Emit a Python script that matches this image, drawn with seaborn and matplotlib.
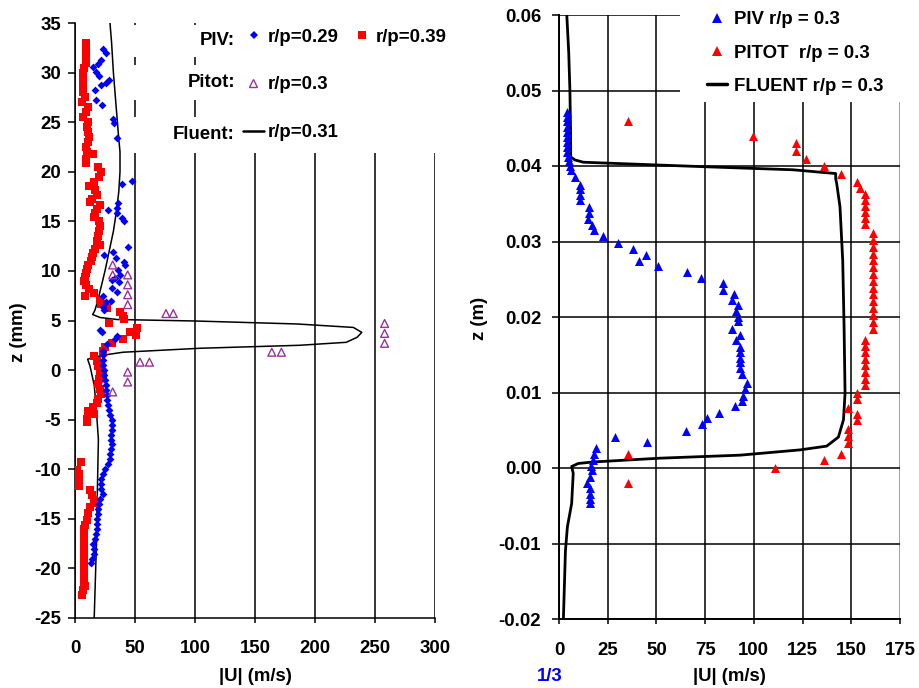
import numpy as np
import pandas as pd
import matplotlib
matplotlib.use("Agg")
import matplotlib.pyplot as plt
import seaborn as sns
from matplotlib.lines import Line2D
from matplotlib.patches import Rectangle
from matplotlib.ticker import FormatStrFormatter

# ---------------- data: left panel (z in mm, |U| in m/s) ----------------
piv29_z = [32.4, 32.0, 31.3, 30.9, 30.6, 30.1, 29.7, 29.3, 28.9, 28.7, 28.2, 27.2, 26.7,
           25.3, 24.9, 23.4, 19.1, 18.8, 16.8, 16.3, 16.1, 15.8, 15.3, 15.0,
           12.4, 11.9, 11.6, 11.3, 10.9, 10.6, 10.1, 9.6, 9.3, 9.1, 8.9, 8.3, 7.9, 7.5,
           7.0, 6.9, 6.4, 6.1, 4.0, 3.8, 3.4, 3.1, 2.6, 1.9,
           1.5, 1.0, 0.5, 0.0, -0.5, -1.0, -1.5, -2.0, -2.5, -3.0, -3.5, -4.0, -4.5,
           -5.0, -5.5, -6.0, -6.5, -7.0, -7.5, -8.0, -8.5, -9.0, -9.5, -10.0, -10.5,
           -11.0, -11.5, -12.0, -12.5, -13.0, -13.5, -14.0, -14.5, -15.0, -15.5,
           -16.0, -16.5, -17.0, -17.5, -18.0, -18.5, -19.0, -19.5]
piv29_u = [23.6, 25.8, 21.4, 19.4, 14.7, 17.5, 20.3, 28.6, 25.8, 21.4, 16.7, 17.5, 22.2,
           31.9, 32.5, 35.3, 47.2, 38.9, 36.0, 34.7, 27.8, 34.7, 38.9, 40.8,
           44.4, 32.0, 24.2, 34.2, 40.8, 41.7, 36.0, 37.5, 33.3, 30.6, 37.0, 30.6, 34.7, 23.6,
           29.7, 25.8, 23.0, 24.2, 20.8, 22.2, 35.3, 33.3, 26.4, 23.6,
           23.0, 23.0, 23.5, 24.0, 24.5, 25.0, 25.5, 26.0, 26.5, 27.0, 27.5, 28.5, 29.5,
           30.5, 30.5, 30.5, 30.0, 30.0, 30.5, 30.0, 29.5, 29.0, 27.5, 25.0, 23.5,
           22.0, 21.5, 22.0, 23.0, 21.0, 20.0, 19.5, 19.0, 18.5, 18.5,
           18.0, 17.5, 16.5, 15.0, 15.5, 16.0, 14.0, 13.0]

piv39_z = [33.0, 32.5, 32.0, 31.5, 31.0, 30.5, 30.0, 29.5, 29.0, 28.5, 28.0, 27.5, 27.0,
           26.5, 26.0, 25.5, 25.0, 24.5, 24.0, 23.5, 23.0, 22.5, 22.0, 21.8, 21.3, 20.9,
           20.5, 20.0, 19.5, 19.0, 18.6, 18.2, 17.7, 17.3, 17.0, 16.6, 16.2, 15.8, 15.4,
           15.0, 14.5, 14.0, 13.5, 13.0, 12.6, 12.2, 11.8, 11.4, 11.0, 10.6, 10.2, 9.8,
           9.4, 9.0, 8.6, 8.2, 7.8, 7.5, 7.1, 6.7, 6.3, 5.9, 5.5, 5.2, 4.7, 4.2, 3.8, 3.5,
           3.1, 2.7, 2.3, 1.9, 1.4, 0.9, 0.4, -0.1, -0.5, -0.9, -1.4, -1.9, -2.4, -2.9,
           -3.3, -3.7, -4.1, -4.4, -4.9, -5.2, -9.3, -10.1, -10.5, -10.9, -11.3, -11.7,
           -12.1, -12.6, -13.1, -13.4, -13.8, -14.4, -15.1, -15.6, -16.0, -16.5, -17.0,
           -17.5, -18.0, -18.5, -19.0, -19.5, -20.0, -20.5, -21.0, -21.4, -21.8, -22.2, -22.7]
piv39_u = [9.0, 9.0, 9.5, 9.0, 9.0, 7.5, 7.0, 6.5, 7.0, 6.5, 7.0, 8.0, 6.0,
           11.0, 9.0, 6.5, 11.0, 10.0, 11.0, 12.0, 11.0, 9.0, 10.0, 15.0, 9.5, 9.0,
           19.5, 22.0, 20.0, 16.0, 12.0, 16.5, 18.5, 14.0, 12.5, 21.0, 18.0, 17.0, 16.0,
           20.0, 21.0, 20.0, 19.5, 18.0, 21.0, 16.5, 15.0, 14.0, 13.0, 11.0, 10.0, 9.5,
           8.5, 7.5, 9.5, 11.5, 16.0, 8.0, 21.0, 22.0, 27.0, 37.5, 40.0, 41.0, 28.5, 52.0,
           46.0, 51.0, 40.0, 31.0, 25.0, 23.5, 16.0, 18.5, 19.5, 21.0, 23.0, 20.0, 19.5,
           21.0, 21.5, 19.5, 18.5, 15.0, 11.0, 16.0, 10.0, 10.0, 5.0, 2.0, 3.0, 3.5, 2.5,
           3.0, 12.5, 14.0, 15.5, 17.5, 12.5, 10.5, 9.7, 8.5, 7.5, 7.5, 7.5,
           7.5, 7.5, 7.5, 7.5, 7.5, 7.5, 7.5, 7.5, 7.5, 8.0, 7.0, 5.5]

pitot_l_z = [10.6, 9.6, 9.6, 8.6, 7.6, 6.6, 5.7, 5.7, 4.7, 3.7, 2.7, 1.8, 1.8,
             0.8, 0.8, -0.2, -1.2, -2.2]
pitot_l_u = [31.4, 31.4, 43.9, 43.9, 43.9, 43.9, 75.8, 81.9, 258, 258, 258, 164, 172,
             54.2, 62.0, 43.9, 43.9, 31.4]

fluent_l_z = [36, 33, 30, 27, 24, 22, 20, 18, 16, 14, 12, 10, 8.5, 7, 6, 5.6, 5.3, 5.1,
              4.95, 4.65, 4.3, 3.8, 3.3, 2.8, 2.5, 2.2, 1.8, 1.55, 1.35, 1.1, 0.4, -1.5,
              -3.5, -7, -10, -13, -17, -21, -25]
fluent_l_u = [28.5, 30.5, 32, 34, 36, 37.5, 37.5, 36.5, 34.5, 32, 28.5, 25, 22, 19, 16.5,
              14.7, 21, 35, 100, 185, 232, 239, 235, 226, 187, 104, 40, 26, 18, 10.5, 12.5,
              16, 17.5, 19.5, 19, 18.5, 18, 17, 16]

# ---------------- data: right panel (z in m, |U| in m/s) ----------------
piv_r_z = [0.0472, 0.0465, 0.0459, 0.0452, 0.0445, 0.0439, 0.0432, 0.0425, 0.0419, 0.0412,
           0.0406, 0.0400, 0.0395, 0.0385, 0.0375, 0.0369, 0.0362, 0.0355, 0.0346, 0.0338,
           0.0330, 0.0322, 0.0315, 0.0307, 0.0298, 0.0290, 0.0282, 0.0274, 0.0267, 0.0259,
           0.0251, 0.0245, 0.0236, 0.0230, 0.0222, 0.0216, 0.0208, 0.0200, 0.0195, 0.0184,
           0.0176, 0.0169, 0.0160, 0.0153, 0.0146, 0.0140, 0.0133, 0.0124, 0.0112, 0.0104,
           0.0095, 0.0089, 0.0082, 0.0073, 0.0066, 0.0058, 0.0049, 0.0041, 0.0035, 0.0027,
           0.0019, 0.0011, 0.0003, -0.0003, -0.0012, -0.0020, -0.0027, -0.0034, -0.0041,
           -0.0046]
piv_r_u = [3.9, 3.9, 3.9, 3.9, 3.9, 3.9, 3.9, 3.9, 3.9, 4.8,
           5.0, 5.5, 6.0, 8.2, 10.8, 10.8, 10.8, 10.8, 15.4, 15.4,
           15.0, 16.8, 18.2, 22.7, 30.4, 38.1, 44.5, 41.1, 50.6, 65.5,
           72.9, 84.3, 84.3, 90.0, 89.0, 92.0, 91.0, 92.0, 92.0, 89.0,
           93.0, 90.7, 93.0, 93.0, 93.0, 93.0, 93.0, 94.0, 96.3, 95.4,
           94.5, 94.0, 90.3, 82.1, 75.8, 73.2, 65.0, 28.7, 45.0, 18.8,
           18.2, 17.2, 16.4, 16.8, 16.0, 14.2, 16.0, 15.7, 15.7,
           16.0]

pitot_r_z = [0.0459, 0.0440, 0.0430, 0.0420, 0.0409, 0.0400, 0.0389, 0.0379, 0.0371, 0.0363,
             0.0355, 0.0347, 0.0339, 0.0331, 0.0323, 0.0311, 0.0302, 0.0293, 0.0284, 0.0275,
             0.0266, 0.0257, 0.0248, 0.0239, 0.0230, 0.0221, 0.0212, 0.0203, 0.0194, 0.0184,
             0.0170, 0.0162, 0.0153, 0.0144, 0.0136, 0.0127, 0.0118, 0.0110, 0.0100, 0.0092,
             0.0079, 0.0072, 0.0063, 0.0052, 0.0042, 0.0033, 0.0019, 0.0010, 0.0000, 0.0019,
             -0.0020]
pitot_r_u = [35.2, 99.7, 121.6, 121.6, 126.8, 136.0, 144.7, 152.8, 154.5, 157.0,
             157.0, 157.0, 157.0, 157.0, 157.0, 161.0, 161.0, 161.0, 161.0, 161.0,
             161.0, 161.0, 161.0, 161.0, 161.0, 161.0, 161.0, 161.0, 161.0, 161.0,
             157.0, 157.0, 157.0, 157.0, 157.0, 157.0, 157.0, 157.0, 152.8, 152.8,
             148.5, 152.8, 152.8, 148.5, 148.5, 148.5, 144.7, 136.0, 111.0, 35.2,
             35.2]

fluent_r_z = [0.0605, 0.055, 0.050, 0.045, 0.0412, 0.0408, 0.0405, 0.0399, 0.0395, 0.0390,
              0.0383, 0.0377, 0.0346, 0.0275, 0.0187, 0.0099, 0.0064, 0.0041, 0.0029,
              0.0024, 0.0017, 0.0013, 0.0008, 0.0006, 0.0002, -0.0007, -0.0047, -0.0078,
              -0.011, -0.0205]
fluent_r_u = [3.9, 5.0, 5.6, 5.9, 6.0, 8.2, 12.5, 75, 120, 142, 142, 142.5, 144.2, 145.6,
              146.3, 146.8, 146.0, 143.4, 137.4, 123.7, 92.9, 51.8, 17.6, 9.9, 6.5, 7.3,
              6.5, 4.3, 3.3, 2.2]

left_xticks = [0, 50, 100, 150, 200, 250, 300]
left_yticks = [-25, -20, -15, -10, -5, 0, 5, 10, 15, 20, 25, 30, 35]
right_xticks = [0, 25, 50, 75, 100, 125, 150, 175]
right_yticks = [-0.02, -0.01, 0.0, 0.01, 0.02, 0.03, 0.04, 0.05, 0.06]

# ---------------- style ----------------
sns.set_theme(style="ticks")
plt.rcParams["font.family"] = ["Liberation Sans", "DejaVu Sans"]
plt.rcParams["font.weight"] = "bold"
plt.rcParams["axes.unicode_minus"] = False
plt.rcParams["text.color"] = "black"
plt.rcParams["axes.labelcolor"] = "black"
plt.rcParams["xtick.color"] = "black"
plt.rcParams["ytick.color"] = "black"
plt.rcParams["xtick.labelcolor"] = "black"
plt.rcParams["ytick.labelcolor"] = "black"
FS = 13.4
W, H = 919, 688

def fx(px):
    return px / W

def fy(py):
    return 1 - py / H

fig = plt.figure(figsize=(W / 100, H / 100), dpi=100)
fig.patch.set_facecolor("white")
ax1 = fig.add_axes([fx(75), fy(618), fx(360), 595 / H])
ax2 = fig.add_axes([fx(559), fy(619), fx(341), 604 / H])

BLUE = "#0000FF"
RED = "#FF0000"
PURPLE = "#993399"

# ---------------- left panel ----------------
ax1.set_axisbelow(True)
sns.lineplot(x=fluent_l_u, y=fluent_l_z, sort=False, estimator=None, color="black",
             lw=1.1, ax=ax1, zorder=2)
sns.scatterplot(x=piv39_u, y=piv39_z, marker="s", s=30, color=RED, linewidth=0,
                ax=ax1, zorder=3)
sns.scatterplot(x=piv29_u, y=piv29_z, marker="D", s=16, color=BLUE, linewidth=0,
                ax=ax1, zorder=4)
sns.scatterplot(x=pitot_l_u, y=pitot_l_z, marker="^", s=32, facecolor="none",
                edgecolor=PURPLE, linewidth=1.0, ax=ax1, zorder=4)

ax1.set_xlim(0, 300)
ax1.set_ylim(-25, 35)
ax1.set_xticks(left_xticks)
ax1.set_yticks(left_yticks)
ax1.xaxis.grid(True, color="black", lw=1.1)
ax1.yaxis.grid(False)
for s in ["top", "right"]:
    ax1.spines[s].set_visible(False)
for s in ["left", "bottom"]:
    ax1.spines[s].set_color("black")
    ax1.spines[s].set_linewidth(1.1)
ax1.tick_params(axis="y", direction="out", length=5, width=1.1, color="black",
                labelcolor="black", labelsize=FS, pad=5)
ax1.tick_params(axis="x", direction="out", length=3.6, width=1.1, color="black",
                labelcolor="black", labelsize=FS, pad=12)
for lab in ax1.get_xticklabels() + ax1.get_yticklabels():
    lab.set_fontweight("bold")
ax1.set_xlabel("|U| (m/s)", fontsize=FS, fontweight="bold", color="black")
ax1.set_ylabel("z (mm)", fontsize=FS, fontweight="bold", color="black")
ax1.xaxis.set_label_coords(0.5, -0.084)
ax1.yaxis.set_label_coords(-0.133, 0.48)

# white legend background (covers grid lines)
for (x0, y0, x1, y1) in [(205, 12, 455, 153), (128, 25, 205, 57), (128, 65, 205, 100),
                         (128, 117, 205, 153)]:
    ax1.add_patch(Rectangle((fx(x0), fy(y1)), fx(x1 - x0), (y1 - y0) / H,
                            transform=fig.transFigure, facecolor="white",
                            edgecolor="none", zorder=1.5, clip_on=False))

prop = {"weight": "bold", "size": FS}
fig.text(fx(235), fy(45), "PIV:", ha="right", va="baseline", fontsize=FS,
         fontweight="bold", color="black")
fig.text(fx(235), fy(87), "Pitot:", ha="right", va="baseline", fontsize=FS,
         fontweight="bold", color="black")
fig.text(fx(235), fy(139), "Fluent:", ha="right", va="baseline", fontsize=FS,
         fontweight="bold", color="black")

h29 = Line2D([], [], marker="D", ls="none", color=BLUE, ms=3.8, mew=0)
h39 = Line2D([], [], marker="s", ls="none", color=RED, ms=5.4, mew=0)
hpt = Line2D([], [], marker="^", ls="none", mfc="none", mec=PURPLE, ms=5.5, mew=1.0)
hfl = Line2D([], [], color="black", lw=1.8)

leg1 = ax1.legend([h29, h39], ["r/p=0.29", "r/p=0.39"], ncol=2, loc="center left",
                  bbox_to_anchor=(fx(244.7), fy(37)), bbox_transform=fig.transFigure,
                  frameon=False, handlelength=1.0, handletextpad=0.25, columnspacing=0.75,
                  borderpad=0, borderaxespad=0, prop=prop, labelcolor="black")
ax1.add_artist(leg1)
leg2 = ax1.legend([hpt], ["r/p=0.3"], loc="center left",
                  bbox_to_anchor=(fx(243.7), fy(84.5)), bbox_transform=fig.transFigure,
                  frameon=False, handlelength=1.0, handletextpad=0.3,
                  borderpad=0, borderaxespad=0, prop=prop, labelcolor="black")
ax1.add_artist(leg2)
leg3 = ax1.legend([hfl], ["r/p=0.31"], loc="center left",
                  bbox_to_anchor=(fx(243), fy(132.5)), bbox_transform=fig.transFigure,
                  frameon=False, handlelength=1.13, handletextpad=0.22,
                  borderpad=0, borderaxespad=0, prop=prop, labelcolor="black")
for lg in (leg1, leg2, leg3):
    lg.set_zorder(6)

# ---------------- right panel ----------------
ax2.set_axisbelow(True)
sns.lineplot(x=fluent_r_u, y=fluent_r_z, sort=False, estimator=None, color="black",
             lw=2.0, ax=ax2, zorder=2)
sns.scatterplot(x=piv_r_u, y=piv_r_z, marker="^", s=42, color=BLUE, linewidth=0,
                ax=ax2, zorder=3)
sns.scatterplot(x=pitot_r_u, y=pitot_r_z, marker="^", s=42, color=RED, linewidth=0,
                ax=ax2, zorder=3)
ax2.set_xlim(0, 175)
ax2.set_ylim(-0.02, 0.06)
ax2.set_xticks(right_xticks)
ax2.set_yticks(right_yticks)
ax2.yaxis.set_major_formatter(FormatStrFormatter("%.2f"))
ax2.grid(True, color="black", lw=1.1)
ax2.get_xgridlines()[-1].set_color("#888888")
for s in ["top", "right"]:
    ax2.spines[s].set_visible(False)
for s in ["left", "bottom"]:
    ax2.spines[s].set_color("black")
    ax2.spines[s].set_linewidth(1.4)
ax2.tick_params(axis="y", direction="out", length=4.8, width=1.1, color="black",
                labelcolor="black", labelsize=FS, pad=8)
ax2.tick_params(axis="x", direction="out", length=3.6, width=1.1, color="black",
                labelcolor="black", labelsize=FS, pad=13)
for lab in ax2.get_xticklabels() + ax2.get_yticklabels():
    lab.set_fontweight("bold")
ax2.set_xlabel("|U| (m/s)", fontsize=FS, fontweight="bold", color="black")
ax2.set_ylabel("z (m)", fontsize=FS, fontweight="bold", color="black")
ax2.xaxis.set_label_coords(0.5, -0.081)
ax2.yaxis.set_label_coords(-0.208, 0.498)

ax2.add_patch(Rectangle((fx(680), fy(102)), fx(239), 102 / H, transform=fig.transFigure,
                        facecolor="white", edgecolor="none", zorder=1.5, clip_on=False))
hb = Line2D([], [], marker="^", ls="none", color=BLUE, ms=6.5, mew=0)
hr = Line2D([], [], marker="^", ls="none", color=RED, ms=6.5, mew=0)
hf = Line2D([], [], color="black", lw=2.5)
leg4 = ax2.legend([hb, hr, hf], ["PIV r/p = 0.3", "PITOT  r/p = 0.3", "FLUENT r/p = 0.3"],
                  loc="upper left", bbox_to_anchor=(fx(707), fy(11.4)),
                  bbox_transform=fig.transFigure, frameon=False, handlelength=1.08,
                  handletextpad=0.38, labelspacing=0.87, borderpad=0, borderaxespad=0,
                  prop=prop, labelcolor="black")
leg4.set_zorder(6)

fig.text(fx(550), fy(681), "1/3", ha="center", va="baseline", color=BLUE,
         fontsize=FS, fontweight="bold")

fig.savefig("out.png", dpi=100, facecolor="white")
